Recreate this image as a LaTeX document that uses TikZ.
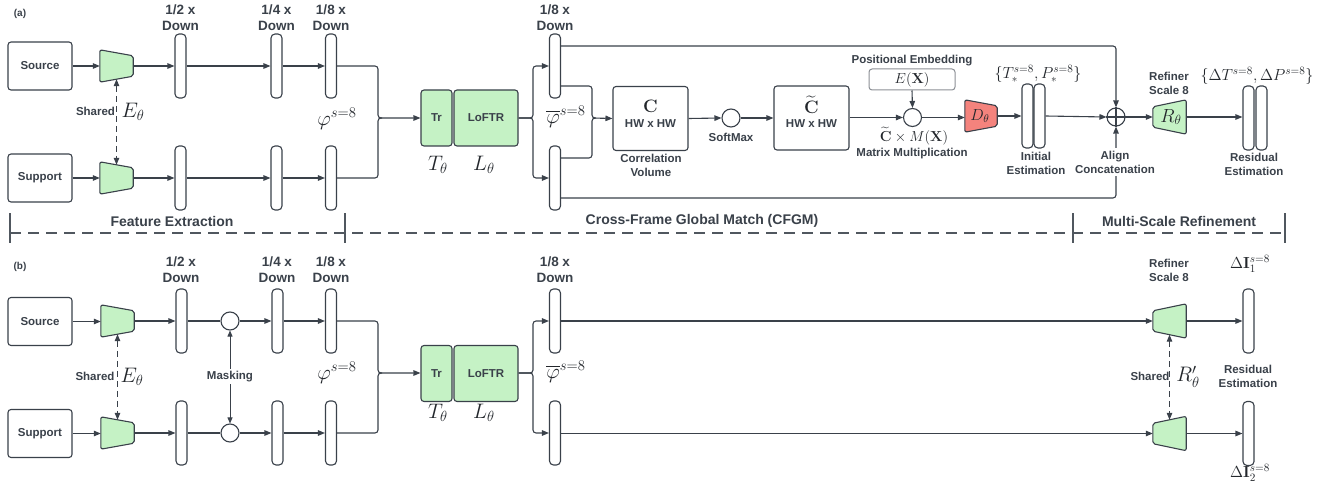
\RequirePackage{fix-cm}
\documentclass[tikz,border=0pt]{standalone}
\usepackage[no-math]{fontspec}
\setmainfont{Liberation Sans}
\usepackage{amsmath}
\usetikzlibrary{arrows.meta,calc,backgrounds}
\definecolor{ink}{HTML}{3A414A}
\definecolor{mink}{HTML}{23272C}
\definecolor{gfill}{HTML}{C5F2C5}
\definecolor{rfill}{HTML}{F4837D}
\definecolor{sepc}{HTML}{50575F}
\definecolor{embc}{HTML}{8C9096}
\tikzset{
  conn/.style={draw=ink, line width=1.1pt},
  arr/.style={conn, -{Triangle[length=7pt,width=5.5pt]}},
  darr/.style={conn, dash pattern=on 6pt off 4pt, {Triangle[length=7pt,width=5.5pt]}-{Triangle[length=7pt,width=5.5pt]}},
  barr/.style={conn, line width=0.9pt, {Triangle[length=6pt,width=5pt]}-{Triangle[length=6pt,width=5pt]}},
  lbl/.style={font=\fontsize{11.5}{14}\selectfont\bfseries, text=ink, align=center, inner sep=0pt},
  hdr/.style={font=\fontsize{13.5}{16}\selectfont\bfseries, text=ink, align=center, inner sep=0pt},
  sect/.style={font=\fontsize{14}{16}\selectfont\bfseries, text=ink, inner sep=0pt},
  tag/.style={font=\fontsize{10}{12}\selectfont\bfseries, text=ink, inner sep=0pt},
  mbig/.style={font=\fontsize{21}{21}\selectfont, text=mink, inner sep=0pt},
  mmid/.style={font=\fontsize{16}{16}\selectfont, text=mink, inner sep=0pt},
  msml/.style={font=\fontsize{14.5}{15}\selectfont, text=mink, inner sep=0pt},
  box/.style={draw=ink, line width=1.1pt, rounded corners=3pt, minimum width=64pt, minimum height=48pt, lbl},
  bar/.style={draw=ink, line width=1.1pt, rounded corners=4pt, minimum width=11pt, minimum height=64pt, inner sep=0pt, fill=white},
  gbox/.style={draw=ink, fill=gfill, line width=1.1pt, rounded corners=3pt, minimum height=56pt, inner sep=0pt, lbl},
  wbox/.style={draw=ink, line width=1.1pt, rounded corners=3pt, minimum width=75pt, minimum height=64pt, inner sep=0pt},
  trapbox/.style={minimum width=33pt, minimum height=32pt, inner sep=0pt},
  dot/.style={circle, draw=ink, line width=1.1pt, minimum size=18pt, inner sep=0pt, fill=white},
  sepline/.style={draw=sepc, line width=1.8pt},
  trap/.style={draw=ink, line width=1.1pt, rounded corners=2pt},
}
% left edge tall
\newcommand\trapLT[2]{\filldraw[trap,fill=#2] (#1.north west) -- ([yshift=-6pt]#1.north east) -- ([yshift=6pt]#1.south east) -- (#1.south west) -- cycle;}
% right edge tall
\newcommand\trapRT[2]{\filldraw[trap,fill=#2] ([yshift=-7pt]#1.north west) -- (#1.north east) -- (#1.south east) -- ([yshift=7pt]#1.south west) -- cycle;}
\begin{document}
\begin{tikzpicture}[x=1pt,y=-1pt]
\useasboundingbox (0,0) rectangle (1327,489);
\begin{pgfonlayer}{background}
\fill[white] (0,0) rectangle (1327,489);
\end{pgfonlayer}

% ================= (a) =================
\node[tag] (ta) at (20,14) {(a)};
\node[box] (src1) at (40,66) {Source};
\node[box] (sup1) at (40,178) {Support};
\node[trapbox] (e1) at (116.5,66) {};
\node[trapbox] (e2) at (116.5,178) {};
\trapLT{e1}{gfill}\trapLT{e2}{gfill}
\node[lbl] (sh1) at (95.5,111) {Shared};
\node[mbig] (eth1) at (133,112) {$E_\theta$};

\node[bar] (a2s) at (180.5,66) {};
\node[bar] (a2t) at (180.5,178) {};
\node[bar] (a4s) at (276.5,66) {};
\node[bar] (a4t) at (276.5,178) {};
\node[bar] (a8s) at (331,66) {};
\node[bar] (a8t) at (331,178) {};
\node[hdr] (h2a) at (180.5,18) {1/2 x\\Down};
\node[hdr] (h4a) at (276.5,18) {1/4 x\\Down};
\node[hdr] (h8a) at (331,18) {1/8 x\\Down};
\node[mbig] (phia) at (337,119) {$\varphi^{s=8}$};

\coordinate (m1) at (378,118);
\node[gbox, minimum width=31pt] (tr1) at (436.5,118) {Tr};
\node[gbox, minimum width=64pt] (lf1) at (486,118) {LoFTR};
\node[mbig] (tth1) at (438,165) {$T_\theta$};
\node[mbig] (lth1) at (484,165) {$L_\theta$};
\coordinate (s1) at (533,118);

\node[bar] (pa1) at (555,66) {};
\node[bar] (pa2) at (555,178) {};
\node[hdr] (h8b) at (555,18) {1/8 x\\Down};
\node[mbig] (phba) at (566,117) {$\overline{\varphi}^{s=8}$};
\coordinate (j1) at (592,118);

\node[wbox] (cbox) at (650.5,118.5) {};
\node[inner sep=0pt, text=mink, font=\fontsize{18}{18}\selectfont] (ctxt) at (650.5,106) {$\mathbf{C}$};
\node[lbl] (chw) at (650.5,123.5) {HW x HW};
\node[lbl] (corr) at (651,165) {Correlation\\Volume};

\node[dot] (soft) at (731,118) {};
\node[lbl] (softl) at (731,137.5) {SoftMax};

\node[wbox] (ctil) at (811.5,118) {};
\node[inner sep=0pt, text=mink, font=\fontsize{18}{18}\selectfont] (cttxt) at (811.5,105) {$\widetilde{\mathbf{C}}$};
\node[lbl] (cthw) at (811.5,123.5) {HW x HW};

\node[dot] (mult) at (912.5,117.5) {};
\node[lbl] (pel) at (912,60.5) {Positional Embedding};
\node[draw=embc, line width=1pt, rounded corners=3pt, minimum width=86pt, minimum height=21pt, inner sep=0pt, msml] (emb) at (912,79.5) {$E(\mathbf{X})$};
\node[msml] (cml) at (914,136) {$\widetilde{\mathbf{C}}\times M(\mathbf{X})$};
\node[lbl] (mml) at (912,153.5) {Matrix Multiplication};

\node[trapbox, minimum width=32pt] (dec) at (981,116) {};
\trapLT{dec}{rfill}
\node[mmid] (dtxt) at (980,116) {$D_\theta$};

\node[bar] (ie1) at (1027.5,116) {};
\node[bar] (ie2) at (1039.5,116) {};
\node[mmid] (tpl) at (1038,74) {$\{T_{*}^{s=8},P_{*}^{s=8}\}$};
\node[lbl] (iel) at (1036,163) {Initial\\Estimation};

\node[dot] (plus) at (1116,117) {};
\draw[conn] (plus.north) -- (plus.south) (plus.west) -- (plus.east);

\node[trapbox, minimum height=34pt] (ref) at (1169.5,117) {};
\trapRT{ref}{gfill}
\node[mmid, font=\fontsize{19}{19}\selectfont] (rtxt) at (1171,117) {$R_\theta$};
\node[lbl] (rsl) at (1169,83.5) {Refiner\\Scale 8};

\node[bar] (re1) at (1248.5,118) {};
\node[bar] (re2) at (1261.5,118) {};
\node[mmid] (dtp) at (1257,76) {$\{\Delta T^{s=8},\Delta P^{s=8}\}$};
\node[lbl] (rel) at (1254,164.5) {Residual\\Estimation};

% connectors (a)
\draw[arr] (src1.east) -- (e1.west);
\draw[arr] (sup1.east) -- (e2.west);
\draw[arr] (e1.east) -- (a2s.west);
\draw[arr] (e2.east) -- (a2t.west);
\draw[arr] (a2s.east) -- (a4s.west);
\draw[arr] (a2t.east) -- (a4t.west);
\draw[arr] (a4s.east) -- (a8s.west);
\draw[arr] (a4t.east) -- (a8t.west);
\draw[darr] ([yshift=3pt]e1.south) -- ([yshift=-3pt]e2.north);
\draw[conn, rounded corners=3pt] (a8s.east) -| (m1) -- ++(4,0);
\draw[arr, rounded corners=3pt] (a8t.east) -| (m1) -- (tr1.west);
\draw[arr, rounded corners=3pt] (lf1.east) -- (s1) |- (pa1.west);
\draw[arr, rounded corners=3pt] (lf1.east) -- (s1) |- (pa2.west);
\draw[conn, rounded corners=3pt] ([yshift=-20pt]pa1.east) -| (j1) -- ++(4,0);
\draw[arr, rounded corners=3pt] ([yshift=20pt]pa2.east) -| (j1) -- (cbox.west);
\draw[arr] (cbox.east) -- (soft.west);
\draw[arr] (soft.east) -- (ctil.west);
\draw[arr] (ctil.east |- mult) -- (mult.west);
\draw[arr] (emb.south) -- (mult.north);
\draw[arr] (mult.east) -- (dec.west |- mult);
\draw[arr] (dec.east) -- (ie1.west);
\draw[arr] (ie2.east) -- (plus.west);
\draw[arr] (plus.east) -- (ref.west);
\draw[arr] (ref.east) -- (re1.west |- ref);
\draw[arr, rounded corners=3pt] ([yshift=20pt]pa1.east) -| (plus.north);
\draw[arr, rounded corners=3pt] ([yshift=-20pt]pa2.east) -| (plus.south);
\node[lbl, fill=white, inner sep=3pt] (acl) at (1115,162) {Align\\Concatenation};

% separator
\coordinate (sl) at (10,233);
\coordinate (sr) at (1285,233);
\draw[sepline, dash pattern=on 11pt off 7pt] (sl) -- (sr);
\foreach \x in {10,345,1073,1285} \draw[sepline] (\x,213) -- (\x,243);
\node[sect] (fe) at (172,221) {Feature Extraction};
\node[sect] (cf) at (702,221) {Cross-Frame Global Match (CFGM)};
\node[sect] (ms) at (1179,221) {Multi-Scale Refinement};

% ================= (b) =================
\node[tag] (tb) at (20,267) {(b)};
\node[box] (src2) at (40,321.5) {Source};
\node[box] (sup2) at (40,433.5) {Support};
\node[trapbox] (e3) at (117.5,321) {};
\node[trapbox] (e4) at (117.5,433) {};
\trapLT{e3}{gfill}\trapLT{e4}{gfill}
\node[lbl] (sh2) at (95,376.5) {Shared};
\node[mbig] (eth2) at (132,377) {$E_\theta$};

\node[bar] (b2s) at (181.5,321) {};
\node[bar] (b2t) at (181.5,433) {};
\node[dot] (mk1) at (230,321) {};
\node[dot] (mk2) at (230,433) {};
\node[bar] (b4s) at (277.5,321) {};
\node[bar] (b4t) at (277.5,433) {};
\node[bar] (b8s) at (331,321) {};
\node[bar] (b8t) at (331,433) {};
\node[hdr] (h2b) at (181,270) {1/2 x\\Down};
\node[hdr] (h4b) at (277,270) {1/4 x\\Down};
\node[hdr] (h8c) at (331,270) {1/8 x\\Down};
\node[mbig] (phib) at (337,373) {$\varphi^{s=8}$};

\coordinate (m2) at (378,373);
\node[gbox, minimum width=31pt] (tr2) at (436.5,373.5) {Tr};
\node[gbox, minimum width=64pt] (lf2) at (486,373.5) {LoFTR};
\node[mbig] (tth2) at (438,413) {$T_\theta$};
\node[mbig] (lth2) at (484,413) {$L_\theta$};
\coordinate (s2) at (533,373);

\node[bar] (pb1) at (555,321) {};
\node[bar] (pb2) at (555,433) {};
\node[hdr] (h8d) at (555,270) {1/8 x\\Down};
\node[mbig] (phbb) at (566,372) {$\overline{\varphi}^{s=8}$};

\node[trapbox, minimum height=34pt] (rp1) at (1169.5,321) {};
\node[trapbox, minimum height=34pt] (rp2) at (1169.5,433.5) {};
\trapRT{rp1}{gfill}\trapRT{rp2}{gfill}
\node[lbl] (rsl2) at (1169,270) {Refiner\\Scale 8};
\node[lbl] (sh3) at (1150,376.5) {Shared};
\node[mbig] (rpl) at (1188,377) {$R'_\theta$};

\node[bar] (rb1) at (1248.5,321) {};
\node[bar] (rb2) at (1248.5,433.5) {};
\node[mmid] (di1) at (1250,264) {$\Delta\mathbf{I}_1^{s=8}$};
\node[mmid] (di2) at (1250,473) {$\Delta\mathbf{I}_2^{s=8}$};
\node[lbl] (rel2) at (1248,376) {Residual\\Estimation};

% connectors (b)
\draw[arr] (src2.east) -- (e3.west |- src2);
\draw[arr] (sup2.east) -- (e4.west |- sup2);
\draw[arr] (e3.east) -- (b2s.west);
\draw[arr] (e4.east) -- (b2t.west);
\draw[conn] (b2s.east) -- (mk1.west);
\draw[conn] (b2t.east) -- (mk2.west);
\draw[arr] (mk1.east) -- (b4s.west);
\draw[arr] (mk2.east) -- (b4t.west);
\draw[arr] (b4s.east) -- (b8s.west);
\draw[arr] (b4t.east) -- (b8t.west);
\draw[darr] ([yshift=3pt]e3.south) -- ([yshift=-3pt]e4.north);
\draw[barr] (mk1.south) -- (mk2.north);
\node[lbl, fill=white, inner sep=2pt] (mkl) at (230,376.5) {Masking};
\draw[conn, rounded corners=3pt] (b8s.east) -| (m2) -- ++(4,0);
\draw[arr, rounded corners=3pt] (b8t.east) -| (m2) -- (tr2.west |- m2);
\draw[arr, rounded corners=3pt] (lf2.east |- s2) -- (s2) |- (pb1.west);
\draw[arr, rounded corners=3pt] (lf2.east |- s2) -- (s2) |- (pb2.west);
\draw[arr] (pb1.east) -- (rp1.west);
\draw[arr] (pb2.east |- rp2) -- (rp2.west);
\draw[arr] (rp1.east) -- (rb1.west);
\draw[arr] (rp2.east) -- (rb2.west);
\draw[darr] ([yshift=3.5pt]rp1.south) -- ([yshift=-3.5pt]rp2.north);
\end{tikzpicture}
\end{document}
